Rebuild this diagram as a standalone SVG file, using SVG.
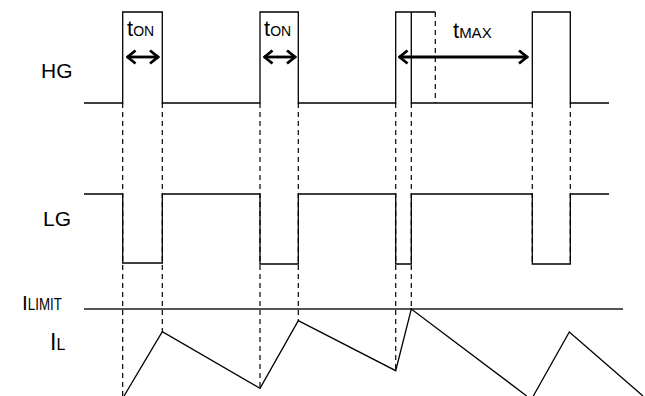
<svg xmlns="http://www.w3.org/2000/svg" width="645" height="396" viewBox="0 0 645 396">
<style>
.w{fill:none;stroke:#000;stroke-width:1.3}
.d{fill:none;stroke:#000;stroke-width:1.2;stroke-dasharray:5,4}
.lim{fill:none;stroke:#555;stroke-width:2}
.a{fill:none;stroke:#000;stroke-width:2.8}
.t{font-family:"Liberation Sans",Arial,sans-serif;fill:#000}
</style>
<defs>
<marker id="ah" viewBox="0 0 11 16" refX="10" refY="8" markerWidth="11" markerHeight="16" markerUnits="userSpaceOnUse" orient="auto-start-reverse">
<path d="M1.5,1.5 L9.5,8 L1.5,14.5" fill="none" stroke="#000" stroke-width="2.8"/>
</marker>
</defs>
<rect width="645" height="396" fill="#fff"/>
<g id="connectors">
<path class="d" d="M122.7,103V396M162.3,103V331.7M260,103V388.3M298.3,103V320.7M395.7,103V370.7M411.3,103V309M435.3,12V103M532.3,103V264M570.3,103V264"/>
<line class="a" x1="127" y1="57" x2="158.5" y2="57" marker-start="url(#ah)" marker-end="url(#ah)"/>
<line class="a" x1="264" y1="57" x2="295.5" y2="57" marker-start="url(#ah)" marker-end="url(#ah)"/>
<line class="a" x1="399" y1="57" x2="527.5" y2="57" marker-start="url(#ah)" marker-end="url(#ah)"/>
</g>
<g id="HG">
<text class="t" x="41" y="78" font-size="21">HG</text>
<path class="w" d="M84,103H122.7V12H162.3V103H260V12H298.3V103H395.7V12H435.3M411.3,12V103H532.3V12H570.3V103H609"/>
</g>
<g id="LG">
<text class="t" x="43" y="226" font-size="21">LG</text>
<path class="w" d="M84,194H122.7V263H162.3V194H260V264H298.3V194H395.7V264H411.3V194H532.3V264H570.3V194H609"/>
</g>
<g id="ILIMIT">
<text class="t" x="22" y="310" font-size="21">I<tspan font-size="16" textLength="34" lengthAdjust="spacingAndGlyphs">LIMIT</tspan></text>
<line class="lim" x1="84" y1="309" x2="623" y2="309"/>
</g>
<g id="IL">
<text class="t" x="50" y="350" font-size="23">I<tspan font-size="16">L</tspan></text>
<path class="w" d="M124,396L162.3,331.7L260,388.3L298.3,320.7L395.7,370.7L411.3,309L526.7,396M533.3,396L569.3,332L643,396"/>
</g>
<g id="tON1"><text class="t" x="127" y="36" font-size="22">t<tspan font-size="14">ON</tspan></text></g>
<g id="tON2"><text class="t" x="264" y="36" font-size="22">t<tspan font-size="14">ON</tspan></text></g>
<g id="tMAX"><text class="t" x="453" y="38" font-size="22">t<tspan font-size="15">MAX</tspan></text></g>
</svg>
